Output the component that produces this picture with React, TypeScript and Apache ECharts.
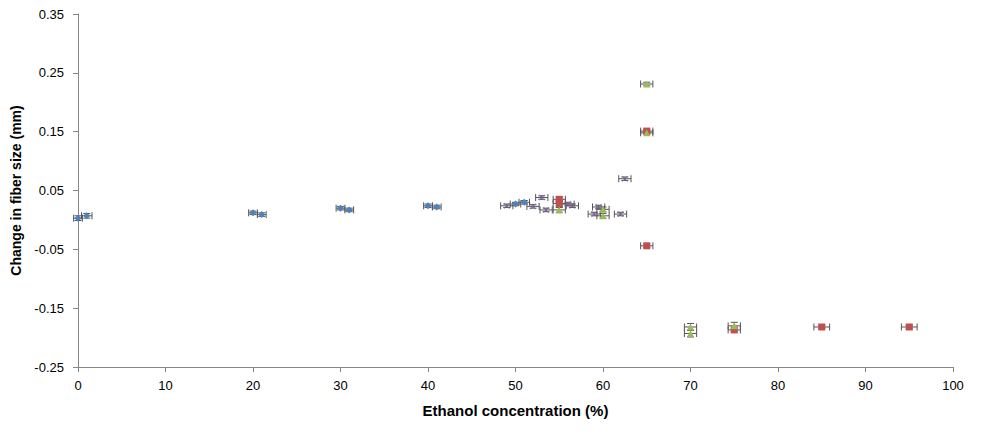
import React, { useEffect, useRef } from "react";
import * as echarts from "echarts";

// Blue diamonds
const blueX = [0, 1, 20, 21, 30, 31, 40, 41, 50, 51];
const blueY = [0.003, 0.007, 0.012, 0.009, 0.02, 0.017, 0.024, 0.022, 0.027, 0.03];
const blueXErr = [0.5, 0.6, 0.5, 0.5, 0.5, 0.5, 0.5, 0.5, 0.6, 0.6];
const blueYErr = [0.004, 0.004, 0.003, 0.003, 0.003, 0.003, 0.003, 0.003, 0.003, 0.003];

// Purple crosses
const purpleX = [49, 52, 53, 53.5, 56, 56.5, 59, 59.5, 62, 62.5];
const purpleY = [0.024, 0.023, 0.038, 0.017, 0.027, 0.024, 0.01, 0.022, 0.01, 0.07];
const purpleXErr = [0.7, 0.7, 0.7, 0.7, 0.7, 0.7, 0.7, 0.7, 0.7, 0.7];
const purpleYErr = [0.003, 0.003, 0.003, 0.003, 0.003, 0.003, 0.003, 0.003, 0.003, 0.003];

// Red squares
const redX = [55, 55, 65, 65, 75, 85, 95];
const redY = [0.035, 0.028, 0.151, -0.044, -0.187, -0.182, -0.182];
const redXErr = [0.7, 0.7, 0.7, 0.7, 0.7, 0.9, 0.9];
const redYErr = [0.004, 0.004, 0.003, 0.003, 0.003, 0.003, 0.003];

// Green triangles
const greenX = [55, 60, 60, 65, 65, 70, 70, 75];
const greenY = [0.017, 0.018, 0.007, 0.231, 0.148, -0.182, -0.193, -0.18];
const greenXErr = [0.7, 0.7, 0.7, 0.7, 0.7, 0.7, 0.7, 0.7];
const greenYErr = [0.004, 0.004, 0.004, 0.003, 0.003, 0.006, 0.006, 0.006];

const xTicks = { min: 0, max: 100, interval: 10 };
const yTicks = { min: -0.25, max: 0.35, interval: 0.1 };

const FONT = "'Liberation Sans', sans-serif";
const ERR_COLOR = "#555555";

function pts(xs: number[], ys: number[]) {
  return xs.map((x, i) => [x, ys[i]]);
}
function errPts(xs: number[], ys: number[], ex: number[], ey: number[]) {
  return xs.map((x, i) => [x, ys[i], ex[i], ey[i]]);
}

const errRender = (params: any, api: any) => {
  const x = api.value(0);
  const y = api.value(1);
  const ex = api.value(2);
  const ey = api.value(3);
  const l = api.coord([x - ex, y]);
  const r = api.coord([x + ex, y]);
  const t = api.coord([x, y + ey]);
  const b = api.coord([x, y - ey]);
  const cap = 3.5;
  const style = { stroke: ERR_COLOR, lineWidth: 1 };
  return {
    type: "group",
    children: [
      { type: "line", shape: { x1: l[0], y1: l[1], x2: r[0], y2: r[1] }, style },
      { type: "line", shape: { x1: l[0], y1: l[1] - cap, x2: l[0], y2: l[1] + cap }, style },
      { type: "line", shape: { x1: r[0], y1: r[1] - cap, x2: r[0], y2: r[1] + cap }, style },
      { type: "line", shape: { x1: t[0], y1: t[1], x2: b[0], y2: b[1] }, style },
      { type: "line", shape: { x1: t[0] - cap, y1: t[1], x2: t[0] + cap, y2: t[1] }, style },
      { type: "line", shape: { x1: b[0] - cap, y1: b[1], x2: b[0] + cap, y2: b[1] }, style },
    ],
  };
};

const X_SYMBOL =
  "path://M0,1 L1,0 L5,4 L9,0 L10,1 L6,5 L10,9 L9,10 L5,6 L1,10 L0,9 L4,5 Z";

export default function App() {
  const ref = useRef<HTMLDivElement>(null);
  useEffect(() => {
    document.body.style.margin = "0";
    const chart = echarts.init(ref.current!, null, { renderer: "svg" });
    const errSeries = (name: string, data: number[][]) => ({
      name,
      type: "custom",
      renderItem: errRender,
      data,
      z: 2,
      encode: { x: 0, y: 1 },
    });
    chart.setOption({
      animation: false,
      grid: { left: 78, right: 47, top: 14, bottom: 73 },
      xAxis: {
        type: "value",
        min: xTicks.min,
        max: xTicks.max,
        interval: xTicks.interval,
        name: "Ethanol concentration (%)",
        nameLocation: "middle",
        nameGap: 36,
        nameTextStyle: { fontFamily: FONT, fontWeight: "bold", fontSize: 15, color: "#000" },
        axisLine: { show: true, onZero: false, lineStyle: { color: "#868686" } },
        axisTick: { show: true, length: 5, lineStyle: { color: "#868686" } },
        axisLabel: { fontFamily: FONT, fontSize: 13, color: "#000", margin: 12 },
        splitLine: { show: false },
      },
      yAxis: {
        type: "value",
        min: yTicks.min,
        max: yTicks.max,
        interval: yTicks.interval,
        name: "Change in fiber size (mm)",
        nameLocation: "middle",
        nameGap: 52,
        nameRotate: 90,
        nameTextStyle: { fontFamily: FONT, fontWeight: "bold", fontSize: 14, color: "#000" },
        axisLine: { show: true, onZero: false, lineStyle: { color: "#868686" } },
        axisTick: { show: true, length: 5, lineStyle: { color: "#868686" } },
        axisLabel: {
          fontFamily: FONT,
          fontSize: 13,
          color: "#000",
          margin: 14,
          formatter: (v: number) => v.toFixed(2),
        },
        splitLine: { show: false },
      },
      series: [
        errSeries("blueErr", errPts(blueX, blueY, blueXErr, blueYErr)),
        errSeries("purpleErr", errPts(purpleX, purpleY, purpleXErr, purpleYErr)),
        errSeries("redErr", errPts(redX, redY, redXErr, redYErr)),
        errSeries("greenErr", errPts(greenX, greenY, greenXErr, greenYErr)),
        {
          name: "Blue",
          type: "scatter",
          symbol: "diamond",
          symbolSize: 7,
          itemStyle: { color: "#4F81BD", opacity: 1 },
          data: pts(blueX, blueY),
          z: 3,
        },
        {
          name: "Purple",
          type: "scatter",
          symbol: X_SYMBOL,
          symbolSize: 6,
          itemStyle: { color: "#8064A2", opacity: 1 },
          data: pts(purpleX, purpleY),
          z: 3,
        },
        {
          name: "Red",
          type: "scatter",
          symbol: "rect",
          symbolSize: 7,
          itemStyle: { color: "#C0504D", opacity: 1 },
          data: pts(redX, redY),
          z: 3,
        },
        {
          name: "Green",
          type: "scatter",
          symbol: "triangle",
          symbolSize: 7,
          itemStyle: { color: "#9BBB59", opacity: 1 },
          data: pts(greenX, greenY),
          z: 4,
        },
      ],
    });
    return () => chart.dispose();
  }, []);
  return <div ref={ref} style={{ width: 1000, height: 440 }} />;
}
